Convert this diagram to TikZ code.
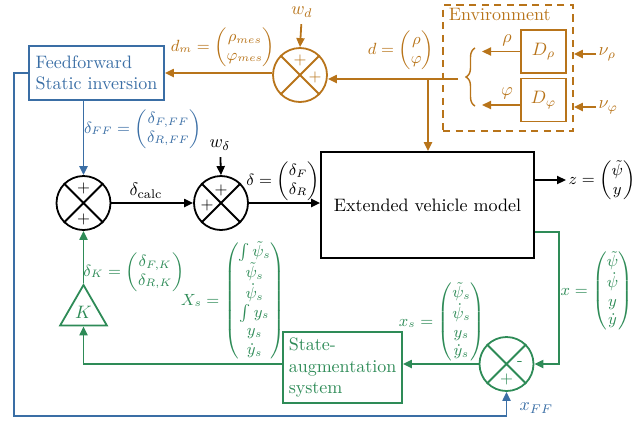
\documentclass[tikz,border=0pt]{standalone}
\usepackage{amsmath}
\usetikzlibrary{arrows.meta,shapes.geometric,decorations.pathreplacing,calc}
\definecolor{cO}{HTML}{B8741A}
\definecolor{cB}{HTML}{3A6EA5}
\definecolor{cG}{HTML}{2E8B57}
\renewcommand{\arraystretch}{0.95}
\begin{document}
\begin{tikzpicture}[x=0.5556pt,y=-0.5556pt,
  line width=1pt,
  >={Triangle[length=5pt,width=4.5pt]},
  blk/.style={draw, rectangle, inner sep=0pt, line width=1pt},
  sumn/.style={draw, circle, minimum size=30pt, inner sep=0pt, line width=1pt},
  sgn/.style={font=\small, inner sep=0pt},
  ml/.style={font=\small, inner sep=1pt},
]
\useasboundingbox (0,0) rectangle (635,424);

% blocks
\node[blk, cB, minimum width=75pt, minimum height=30pt, align=left] (ff) at (96.5,73) {Feedforward\\Static inversion};
\node[blk, minimum width=118.3pt, minimum height=58.9pt] (veh) at (427.5,205) {Extended vehicle model};
\node[blk, cG, minimum width=66.1pt, minimum height=39.4pt, align=left] (sa) at (342.5,367.5) {State-\\augmentation\\system};
\node[blk, cO, dash pattern=on 4pt off 3pt, minimum width=72.2pt, minimum height=70pt] (env) at (508,68) {};
\node[cO, anchor=north west, inner sep=0pt] (envt) at (448,7) {Environment};
\node[blk, cO, minimum width=25pt, minimum height=23.9pt] (dr) at (543.5,51.5) {$D_\rho$};
\node[blk, cO, minimum width=25pt, minimum height=23.9pt] (dp) at (543.5,100) {$D_\varphi$};
\node[regular polygon, regular polygon sides=3, draw, cG, minimum size=30pt, inner sep=0pt] (kk) at (83.5,312) {$K$};

% summing junctions
\node[sumn, cO] (sd) at (300,75) {};
\node[sumn] (s1) at (83.5,203) {};
\node[sumn] (s2) at (221,203) {};
\node[sumn, cG] (s3) at (506.5,364) {};
\foreach \s/\c in {sd/cO,s1/black,s2/black,s3/cG}
  \draw[\c] (\s.45)--(\s.225) (\s.135)--(\s.315);
\node[sgn,cO] (p1) at (300,60) {$+$};
\node[sgn,cO] (p2) at (315,77) {$+$};
\node[sgn] (p3) at (83.5,188) {$+$};
\node[sgn] (p4) at (83.5,219) {$+$};
\node[sgn] (p5) at (221,190) {$+$};
\node[sgn] (p6) at (207,205) {$+$};
\node[sgn,cG] (p7) at (520,363) {-};
\node[sgn,cG] (p8) at (506.5,379) {$+$};

% labels
\node[cO] (wd) at (302,12) {$w_d$};
\node[cO, ml] (dml) at (223,47) {$d_m = \begin{pmatrix}\rho_{mes}\\ \varphi_{mes}\end{pmatrix}$};
\node[cO, ml] (dl) at (401,50) {$d=\begin{pmatrix}\rho\\ \varphi\end{pmatrix}$};
\node[cO] (rl) at (507,40) {$\rho$};
\node[cO] (pl) at (507,93) {$\varphi$};
\node[cO, anchor=west, inner sep=1pt] (nr) at (596,54) {$\nu_\rho$};
\node[cO, anchor=west, inner sep=1pt] (np) at (596,107) {$\nu_\varphi$};
\node[cB, ml] (ffl) at (143,129) {$\delta_{FF}=\begin{pmatrix}\delta_{F,FF}\\ \delta_{R,FF}\end{pmatrix}$};
\node (wdl) at (220,145) {$w_\delta$};
\node (dcl) at (146,191) {$\delta_{\text{calc}}$};
\node[ml] (dl2) at (283,181) {$\delta=\begin{pmatrix}\delta_F\\ \delta_R\end{pmatrix}$};
\node[ml, anchor=west] (zl) at (566,180) {$z=\begin{pmatrix}\tilde\psi\\ y\end{pmatrix}$};
\node[cG, ml, anchor=west] (xl) at (558,291) {$x=\begin{pmatrix}\tilde\psi\\ \dot\psi\\ y\\ \dot y\end{pmatrix}$};
\node[cG, ml] (xsl) at (442,322) {$x_s=\begin{pmatrix}\tilde\psi_s\\ \dot\psi_s\\ y_s\\ \dot y_s\end{pmatrix}$};
\node[cG, ml] (Xsl) at (233,301) {$X_s=\begin{pmatrix}\int\tilde\psi_s\\ \tilde\psi_s\\ \dot\psi_s\\ \int y_s\\ y_s\\ \dot y_s\end{pmatrix}$};
\node[cG, ml] (dkl) at (134,272) {$\delta_K=\begin{pmatrix}\delta_{F,K}\\ \delta_{R,K}\end{pmatrix}$};
\node[cB, anchor=west, inner sep=1pt] (xffl) at (517,408) {$x_{FF}$};

% orange connectors
\coordinate (dbr) at (458,79);
\coordinate (br) at (428,79);
\coordinate (rt) at (482,51.5);
\coordinate (pt) at (482,105);
\draw[cO,->] (dbr) -- (sd.east |- dbr);
\draw[cO,->] (sd.west |- ff.east) -- (ff.east);
\draw[cO,->] (wd) -- (sd.north);
\draw[cO,->] (br) -- (br |- veh.north);
\draw[cO,->] (dr.west) -- (rt);
\draw[cO,->] (dp.west |- pt) -- (pt);
\draw[cO,->] (nr.west) -- (env.east |- nr.west);
\draw[cO,->] (np.west) -- (env.east |- np.west);
\draw[cO, line width=0.8pt, decorate, decoration={brace, amplitude=5pt}] (475,106) -- (475,48);

% black connectors
\draw[->] (s1.east) -- (s2.west);
\draw[->] (wdl) -- (s2.north);
\draw[->] (s2.east) -- (veh.west |- s2.east);
\draw[->] (veh.east |- zl.west) -- (zl.west);

% blue connectors
\coordinate (c1) at (14,416);
\draw[cB,->] (s1 |- ff.south) -- (s1.north);
\draw[cB,->] (ff.west) -| (c1) -| (s3.south);

% green connectors
\coordinate (gx) at (559,232);
\draw[cG,->] (veh.east |- gx) -- (gx) |- (s3.east);
\draw[cG,->] (s3.west) -- (sa.east |- s3.west);
\draw[cG,->] (sa.west |- s3.west) -| (kk.side 2);
\draw[cG,->] (kk.corner 1) -- (s1.south);
\end{tikzpicture}
\end{document}
